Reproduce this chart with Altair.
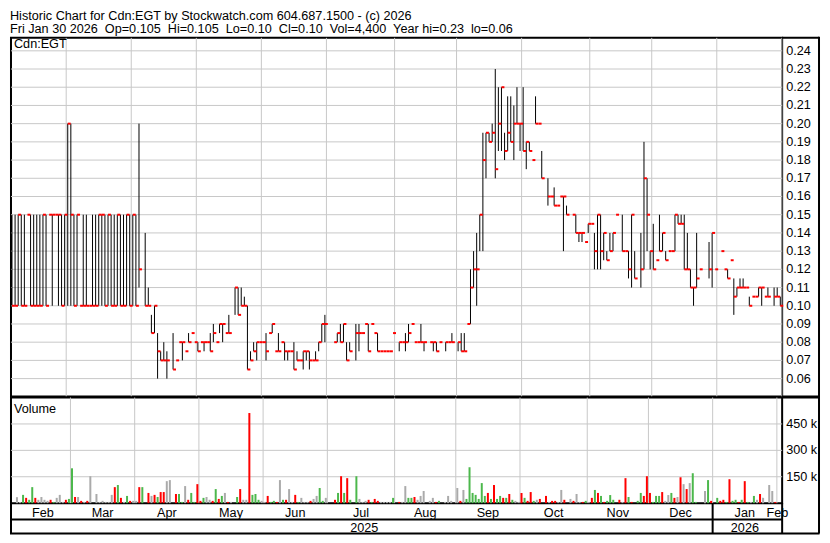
import altair as alt
import pandas as pd

# ---------------- text ----------------
TITLE_LINE_1 = "Historic Chart for Cdn:EGT by Stockwatch.com 604.687.1500 - (c) 2026"
TITLE_LINE_2 = "Fri Jan 30 2026  Op=0.105  Hi=0.105  Lo=0.10  Cl=0.10  Vol=4,400  Year hi=0.23  lo=0.06"
SYMBOL = "Cdn:EGT"
VOLUME_LABEL = "Volume"

# ---------------- calendar (trading-day index of each month start) ----------------
MONTH_NAMES = ["Feb", "Mar", "Apr", "May", "Jun", "Jul", "Aug", "Sep", "Oct", "Nov", "Dec", "Jan", "Feb"]
MONTH_START = [0, 18, 39, 60, 81, 102, 124, 144, 165, 187, 207, 228, 249]
YEAR_NAMES = ["2025", "2026"]
YEAR_START = [0, 228]

PRICE_TICKS = [0.06, 0.07, 0.08, 0.09, 0.10, 0.11, 0.12, 0.13, 0.14, 0.15,
               0.16, 0.17, 0.18, 0.19, 0.20, 0.21, 0.22, 0.23, 0.24]
VOLUME_TICKS = [150000, 300000, 450000]

# ---------------- daily (high, low, close); None = no trade ----------------
FEB_25 = [(.15, .10, .10), (.15, .10, .10), (.15, .10, .15), (.15, .10, .10), (.15, .10, .10),
          (.15, .15, .15), (.15, .10, .10), (.15, .10, .10), (.15, .10, .10),
          (.15, .10, .10), (.15, .10, .15), (.15, .10, .10), (.15, .15, .15), (.15, .10, .15),
          (.15, .15, .15), (.15, .10, .15), (.15, .10, .10), (.15, .10, .15)]
MAR_25 = [(.20, .10, .20), (.20, .10, .15), (.15, .10, .10), (.15, .10, .15), (.10, .10, .10),
          (.15, .10, .10), (.15, .10, .10), (.10, .10, .10), (.15, .10, .10), (.15, .10, .10),
          (.15, .10, .15), (.15, .10, .15), (.15, .10, .10), (.15, .10, .15), (.15, .10, .10),
          (.15, .10, .10), (.15, .10, .15), (.15, .10, .10), (.15, .10, .10), (.15, .10, .15),
          (.15, .10, .10)]
APR_25 = [(.15, .10, .15), (.15, .10, .10), (.20, .11, .12), None, (.14, .10, .10),
          (.11, .10, .10), (.095, .085, .085), (.10, .085, .10), (.085, .06, .075), (.075, .07, .07),
          (.08, .07, .07), (.075, .06, .07), None, (.085, .065, .065), (.07, .07, .07),
          (.08, .08, .08), (.08, .07, .08), (.075, .075, .075), (.085, .08, .08), (.085, .085, .085),
          (.08, .08, .08)]
MAY_25 = [(.08, .075, .075), (.08, .08, .08), (.08, .075, .08), (.08, .08, .08), (.085, .075, .075),
          (.09, .08, .085), (.08, .08, .08), (.09, .085, .09), (.09, .08, .09), (.085, .085, .085),
          (.095, .085, .085), None, (.11, .095, .11), (.11, .095, .095), (.11, .10, .10),
          (.105, .10, .10), (.10, .065, .065), (.075, .07, .07), (.08, .075, .075), (.08, .07, .08),
          (.08, .08, .08)]
JUN_25 = [(.08, .08, .08), (.085, .07, .075), (.085, .085, .085), (.09, .085, .09), (.075, .075, .075),
          (.085, .075, .075), (.08, .08, .08), (.08, .07, .075), (.075, .07, .075), (.075, .075, .075),
          (.08, .065, .065), (.075, .07, .07), (.07, .07, .07), (.075, .065, .075), (.075, .07, .075),
          (.075, .065, .07), (.07, .07, .07), (.075, .07, .07), (.08, .075, .08), (.09, .08, .09),
          (.095, .08, .09)]
JUL_25 = [None, None, (.08, .08, .08), (.085, .08, .085), (.09, .08, .08),
          (.09, .08, .09), (.08, .07, .07), (.08, .075, .075), None, (.09, .07, .085),
          (.09, .075, .085), (.085, .085, .085), (.09, .09, .09), (.09, .075, .075), (.09, .09, .09),
          (.085, .085, .085), (.085, .075, .075), (.075, .075, .075), (.075, .075, .075), (.075, .075, .075),
          (.075, .075, .075), (.085, .085, .085)]
AUG_25 = [None, (.08, .075, .08), (.08, .08, .08), (.085, .075, .08), (.09, .08, .085),
          (.09, .09, .09), (.08, .08, .08), (.08, .08, .08), (.09, .08, .08), (.08, .075, .08),
          None, (.08, .08, .08), (.08, .075, .08), (.08, .075, .075), (.08, .08, .08),
          None, (.08, .075, .08), (.08, .08, .08), (.085, .08, .08), None]
SEP_25 = [(.08, .075, .08), (.085, .075, .075), (.085, .075, .075), (.09, .09, .09), (.12, .09, .11),
          (.13, .11, .12), (.14, .10, .12), (.15, .13, .15), (.195, .13, .18), (.195, .17, .195),
          (.195, .19, .19), (.20, .19, .195), (.23, .17, .175), (.22, .185, .20), (.22, .185, .22),
          (.195, .18, .185), (.215, .185, .195), (.215, .19, .19), (.21, .18, .20), (.22, .20, .20),
          (.20, .185, .20)]
OCT_25 = [(.22, .185, .185), (.19, .175, .19), (.19, .185, .185), (.18, .18, .18), (.215, .20, .20),
          (.20, .20, .20), (.185, .17, .17), None, (.17, .155, .16), (.16, .16, .16),
          (.165, .155, .155), (.155, .155, .155), (.16, .16, .16), (.16, .13, .16), (.155, .15, .15),
          None, (.15, .15, .15), (.15, .14, .14), (.14, .135, .14), (.14, .135, .14),
          (.135, .135, .135), (.145, .14, .145)]
NOV_25 = [(.145, .145, .145), (.14, .12, .13), (.15, .12, .15), (.15, .12, .13), (.14, .125, .14),
          (.13, .125, .125), (.14, .13, .13), (.14, .13, .14), (.15, .15, .15), None,
          (.15, .13, .13), (.13, .13, .13), (.13, .115, .12), (.15, .11, .15), (.13, .115, .115),
          None, (.14, .11, .12), (.19, .12, .17), (.17, .13, .15), (.13, .12, .13)]
DEC_25 = [(.145, .12, .12), (.125, .125, .125), (.15, .13, .13), (.14, .13, .14), (.13, .125, .125),
          (.13, .13, .13), (.13, .13, .13), (.15, .13, .15), (.15, .145, .145), (.15, .145, .145),
          (.15, .12, .12), (.14, .12, .12), (.12, .11, .11), (.11, .10, .11), (.14, .11, .115),
          (.12, .12, .12), None, None, (.135, .115, .12), (.14, .11, .14),
          (.12, .12, .12)]
JAN_26 = [None, (.13, .13, .13), (.12, .12, .12), (.12, .115, .115), (.125, .125, .125),
          (.115, .095, .105), (.11, .105, .11), (.115, .11, .11), (.115, .11, .11), (.11, .11, .11),
          (.105, .10, .10), (.105, .105, .105), (.105, .105, .105), (.11, .105, .11), (.11, .10, .11),
          (.105, .105, .105), (.11, .105, .105), None, (.11, .10, .105), (.11, .105, .105),
          (.105, .10, .10)]

# ---------------- daily volume (thousands of shares) and bar colour ----------------
# colour codes: g = up day, r = down day, k = unchanged, . = no volume
VOL_FEB_25 = [34, 6, 47, 30, 19, 91, 30, 19, 35, 19, 13, 19, 7, 30, 47, 7, 19, 24]
COL_FEB_25 = "kkgrggrkkkkrgkkkrg"
VOL_MAR_25 = [198, 35, 35, 13, 7, 13, 153, 0, 52, 7, 13, 7, 7, 47, 91, 103, 30, 7, 41, 13, 13]
COL_MAR_25 = "grkrkrk.kkkkkkrgrkgrk"
VOL_APR_25 = [13, 91, 91, 0, 58, 41, 47, 35, 63, 63, 125, 131, 0, 52, 52, 7, 97, 19, 58, 7, 108]
COL_APR_25 = "krg.rkrgrrkk.rggkrggr"
VOL_MAY_25 = [13, 30, 35, 19, 13, 80, 24, 41, 58, 7, 7, 0, 35, 80, 19, 19, 512, 47, 52, 19, 13]
COL_MAY_25 = "rgkkrgrgkrk.grkkrgggk"
VOL_JUN_25 = [7, 41, 7, 13, 7, 131, 19, 19, 80, 7, 47, 7, 30, 7, 7, 13, 24, 41, 86, 13, 30]
COL_JUN_25 = "krggrkgrkkrgkkkrkkggk"
VOL_JUL_25 = [0, 0, 19, 58, 153, 58, 142, 19, 0, 153, 24, 7, 13, 19, 7, 24, 13, 7, 7, 7, 7, 30]
COL_JUL_25 = "..rgrgrg.gkkkrgrrkkkkg"
VOL_AUG_25 = [0, 7, 7, 97, 30, 30, 35, 19, 41, 69, 0, 13, 30, 7, 13, 0, 7, 41, 13, 0]
COL_AUG_25 = ".rkkggrkkk.kkrg.kkk."
VOL_SEP_25 = [86, 13, 75, 24, 204, 58, 47, 24, 114, 41, 58, 24, 103, 24, 41, 30, 30, 52, 19, 13, 7]
COL_SEP_25 = "krkgggggggrgrggrgrgkk"
VOL_OCT_25 = [58, 30, 13, 63, 13, 19, 24, 0, 41, 7, 13, 13, 7, 75, 19, 0, 24, 13, 52, 7, 7, 13]
COL_OCT_25 = "rgrrgkr.rkrrkkr.krkkrg"
VOL_NOV_25 = [7, 30, 75, 58, 41, 7, 13, 46, 19, 0, 19, 7, 142, 35, 7, 0, 13, 58, 41, 153]
COL_NOV_25 = "krgrgrggg.rkrgr.ggrr"
VOL_DEC_25 = [58, 7, 41, 41, 63, 13, 46, 58, 30, 35, 147, 108, 80, 114, 170, 7, 0, 0, 69, 131, 13]
COL_DEC_25 = "rgggrkkgrkrkrkgg..kgr"
VOL_JAN_26 = [0, 30, 13, 19, 7, 136, 13, 19, 7, 19, 125, 7, 7, 41, 19, 52, 30, 0, 103, 69, 7]
COL_JAN_26 = ".grrgrggrgrgkgkrk.kkr"

PRICE_MONTHS = [FEB_25, MAR_25, APR_25, MAY_25, JUN_25, JUL_25, AUG_25, SEP_25, OCT_25, NOV_25, DEC_25, JAN_26]
VOL_MONTHS = [VOL_FEB_25, VOL_MAR_25, VOL_APR_25, VOL_MAY_25, VOL_JUN_25, VOL_JUL_25,
              VOL_AUG_25, VOL_SEP_25, VOL_OCT_25, VOL_NOV_25, VOL_DEC_25, VOL_JAN_26]
COL_MONTHS = [COL_FEB_25, COL_MAR_25, COL_APR_25, COL_MAY_25, COL_JUN_25, COL_JUL_25,
              COL_AUG_25, COL_SEP_25, COL_OCT_25, COL_NOV_25, COL_DEC_25, COL_JAN_26]

# ---------------- build tables ----------------
rows = []
idx = 0
for prices, vols, cols in zip(PRICE_MONTHS, VOL_MONTHS, COL_MONTHS):
    for p, v, c in zip(prices, vols, cols):
        r = {"i": idx, "ie": idx + 0.95, "vol": v * 1000, "vc": c,
             "hi": None, "lo": None, "cl": None}
        if p is not None:
            r["hi"], r["lo"], r["cl"] = p
        rows.append(r)
        idx += 1
df = pd.DataFrame(rows)
bars_df = df[df["hi"].notna() & (df["hi"] > df["lo"])]
close_df = df[df["cl"].notna()]
vol_df = df[df["vol"] > 0]

XMIN, XMAX = -0.32, 248.6
grid_df = pd.DataFrame({"g": [s - 0.5 for s in MONTH_START[1:]]})
lab_pos = []
for k, s in enumerate(MONTH_START):
    if k + 1 < len(MONTH_START):
        lab_pos.append((s + MONTH_START[k + 1]) / 2 - 0.5)
    else:
        lab_pos.append(s - 0.3)
month_df = pd.DataFrame({"m": MONTH_NAMES, "x": lab_pos})
jan_x = YEAR_START[1] - 0.5
year_df = pd.DataFrame({"y": YEAR_NAMES, "x": [(XMIN + jan_x) / 2, (jan_x + XMAX) / 2]})
jan_df = pd.DataFrame({"x": [jan_x]})
ptick_df = pd.DataFrame({"v": PRICE_TICKS})
vtick_df = pd.DataFrame({"v": VOLUME_TICKS})

# ---------------- layout ----------------
W, HP, HV = 774, 360, 106
FONT = "Liberation Sans"
FS = 12.7
GRID = "#c8c8c8"
xs = alt.Scale(domain=[XMIN, XMAX], nice=False, zero=False)
pys = alt.Scale(domain=[0.05015, 0.24711], nice=False, zero=False)
vys = alt.Scale(domain=[0, 600000], nice=False, zero=False)
one = pd.DataFrame({"t": [0]})
X = alt.X("i:Q", scale=xs, axis=None)


def txt(s, x, y, baseline="alphabetic"):
    return alt.Chart(one).mark_text(text=s, align="left", baseline=baseline, font=FONT,
                                    fontSize=FS, color="black").encode(x=alt.value(x), y=alt.value(y))


def line(x, x2, y, y2, w=2):
    return alt.Chart(one).mark_rule(color="black", strokeWidth=w).encode(
        x=alt.value(x), x2=alt.value(x2), y=alt.value(y), y2=alt.value(y2))


# ---- price panel ----
p_vgrid = alt.Chart(grid_df).mark_rule(color=GRID, strokeWidth=1).encode(
    x=alt.X("g:Q", scale=xs, axis=None))
p_hgrid = alt.Chart(ptick_df).mark_rule(color=GRID, strokeWidth=1).encode(
    y=alt.Y("v:Q", scale=pys, axis=None))
p_labels = alt.Chart(ptick_df).transform_calculate(
    lab="format(datum.v, '.2f')").mark_text(
    align="left", baseline="middle", font=FONT, fontSize=FS, color="black").encode(
    x=alt.value(W + 4), y=alt.Y("v:Q", scale=pys, axis=None), text="lab:N")
p_bars = alt.Chart(bars_df).mark_rule(color="black", strokeWidth=1).encode(
    x=X, y=alt.Y("lo:Q", scale=pys, axis=None), y2="hi:Q")
p_close = alt.Chart(close_df).mark_rule(color="#ff0000", strokeWidth=2).encode(
    x=X, x2="ie:Q", y=alt.Y("cl:Q", scale=pys, axis=None))

price = alt.layer(
    p_vgrid, p_hgrid, p_bars, p_close, p_labels,
    txt(SYMBOL, 3, 10.5),
    txt(TITLE_LINE_1.replace("  ", "\u00a0 "), -1, -28, baseline="top"),
    txt(TITLE_LINE_2.replace("  ", "\u00a0 "), -1, -15, baseline="top"),
    line(W, W + 37, 0, 0),
).properties(width=W, height=HP)

# ---- volume panel ----
v_vgrid = alt.Chart(grid_df).mark_rule(color=GRID, strokeWidth=1).encode(
    x=alt.X("g:Q", scale=xs, axis=None))
v_hgrid = alt.Chart(vtick_df).mark_rule(color=GRID, strokeWidth=1).encode(
    y=alt.Y("v:Q", scale=vys, axis=None))
v_labels = alt.Chart(vtick_df).transform_calculate(
    lab="format(datum.v / 1000, 'd') + ' k'").mark_text(
    align="left", baseline="middle", font=FONT, fontSize=FS, color="black").encode(
    x=alt.value(W + 4), y=alt.Y("v:Q", scale=vys, axis=None), text="lab:N")
v_bars = alt.Chart(vol_df).mark_bar(size=2).encode(
    x=X, y=alt.Y("vol:Q", scale=vys, axis=None),
    color=alt.Color("vc:N", scale=alt.Scale(domain=["g", "r", "k"],
                                            range=["#4cb84c", "#ff0000", "#aaaaaa"]), legend=None))
m_text = alt.Chart(month_df).mark_text(align="center", baseline="alphabetic", font=FONT,
                                       fontSize=FS, color="black").encode(
    x=alt.X("x:Q", scale=xs, axis=None), y=alt.value(HV + 13.5), text="m:N")
y_text = alt.Chart(year_df).mark_text(align="center", baseline="alphabetic", font=FONT,
                                      fontSize=FS, color="black").encode(
    x=alt.X("x:Q", scale=xs, axis=None), y=alt.value(HV + 28.5), text="y:N")
jan_line = alt.Chart(jan_df).mark_rule(color="black", strokeWidth=2).encode(
    x=alt.X("x:Q", scale=xs, axis=None), y=alt.value(HV), y2=alt.value(HV + 30.5))

volume = alt.layer(
    v_vgrid, v_hgrid, v_bars, v_labels, m_text, y_text, jan_line,
    txt(VOLUME_LABEL, 3, 16),
    line(W, W + 37, -0.5, -0.5, 3),
    line(0, W, HV + 16.5, HV + 16.5),
    line(-1, W + 37.5, HV + 30.5, HV + 30.5),
    line(0, 0, HV, HV + 30.5),
    line(W, W, HV, HV + 30.5),
    line(W + 37, W + 37, -(HP + 2), HV + 30.5),
).properties(width=W, height=HV)

chart = alt.vconcat(price, volume, spacing=1, bounds="flush").properties(
    padding={"left": 0, "top": 0, "right": 0, "bottom": 0},
    background="white",
).configure_view(stroke="black", strokeWidth=2)

chart.save("out.html", embed_options={"renderer": "svg", "actions": False})
